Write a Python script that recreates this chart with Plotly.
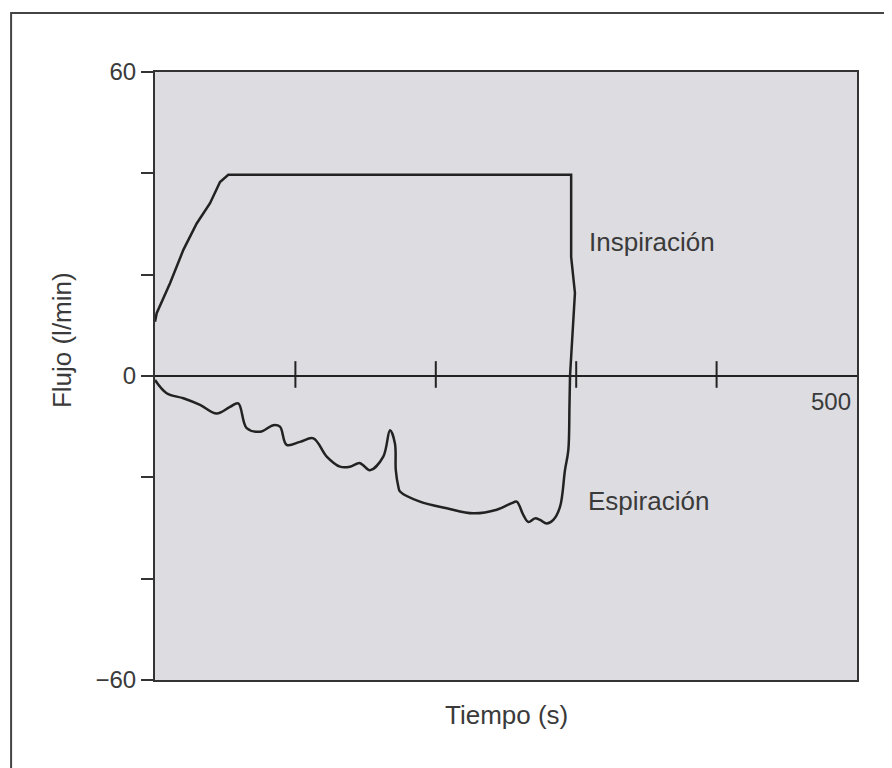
import plotly.graph_objects as go

# Inspiración (l/min) vs tiempo
insp_x = [0, 1.2, 10.7, 20.2, 29.7, 39.2, 46.3, 52.2, 296.4, 296.4, 299.1, 296.4, 295.6]
insp_y = [10.7, 12.4, 18.3, 24.9, 30.1, 34.1, 38.3, 39.7, 39.7, 23.5, 16.4, 1.8, 0]

# Espiración
exp_x = [0, 8.3, 20.2, 32.1, 43.9, 53.4, 59.3, 65.3, 74.8, 84.3, 89.0, 93.8, 103.3,
         112.8, 122.3, 131.8, 138.9, 146.0, 153.1, 162.6, 167.4, 170.9, 171.5, 173.3,
         174.5, 188.7, 207.8, 226.7, 243.4, 254.1, 257.6, 262.3, 265.9, 270.7, 274.2,
         279.0, 283.7, 288.5, 292.0, 294.4, 295.2, 295.6]
exp_y = [-0.8, -3.4, -4.4, -5.7, -7.4, -6.1, -5.4, -10.3, -11.0, -9.7, -10.0, -13.6, -13.0,
         -12.3, -15.9, -17.9, -17.9, -17.2, -18.6, -15.9, -10.7, -13.3, -18.6, -21.8,
         -22.8, -24.8, -26.1, -27.1, -26.4, -25.1, -24.8, -27.4, -28.8, -28.1, -28.4,
         -29.1, -28.4, -25.8, -18.6, -14.6, -6.0, 0]

y_tickvals = [-60, -40, -20, 0, 20, 40, 60]
y_ticktext = ["\u221260", "", "", "0", "", "", "60"]
x_minor_ticks = [100, 200, 300, 400]

line_col = "#222222"
text_col = "#3a3a3a"
font_fam = "Liberation Sans, Arial, sans-serif"

fig = go.Figure()
fig.add_trace(go.Scatter(x=insp_x, y=insp_y, mode="lines",
                         line=dict(color=line_col, width=2.5), hoverinfo="skip"))
fig.add_trace(go.Scatter(x=exp_x, y=exp_y, mode="lines",
                         line=dict(color=line_col, width=2.5, shape="spline", smoothing=1.0),
                         hoverinfo="skip"))
fig.add_trace(go.Scatter(x=x_minor_ticks, y=[0.3] * len(x_minor_ticks), mode="markers",
                         marker=dict(symbol="line-ns-open", size=19, color=line_col,
                                     line=dict(color=line_col, width=2)),
                         hoverinfo="skip"))

fig.update_layout(
    width=884, height=760,
    margin=dict(l=147, r=35, t=64, b=88),
    paper_bgcolor="white",
    plot_bgcolor="#dcdce1",
    showlegend=False,
    font=dict(family=font_fam, color=text_col),
    xaxis=dict(range=[0, 500], showgrid=False, zeroline=False, showticklabels=False,
               ticks="", showline=True, mirror=True, linecolor="#333333", linewidth=2),
    yaxis=dict(range=[-60, 60], showgrid=False, zeroline=True, zerolinecolor="#222222",
               zerolinewidth=2, tickvals=y_tickvals, ticktext=y_ticktext, ticks="outside",
               ticklen=12, tickwidth=2, tickcolor="#333333",
               tickfont=dict(size=24, color=text_col, family=font_fam),
               showline=True, mirror=True, linecolor="#333333", linewidth=2),
    shapes=[dict(type="rect", xref="paper", yref="paper",
                 x0=-0.205, x1=1.055, y0=-0.2, y1=1.097,
                 line=dict(color="#444444", width=2), fillcolor="rgba(0,0,0,0)",
                 layer="below")],
    annotations=[
        dict(x=497, y=-2.0, xref="x", yref="y", text="500", showarrow=False,
             xanchor="right", yanchor="top", font=dict(size=24, color=text_col)),
        dict(x=308, y=26.5, xref="x", yref="y", text="Inspiración", showarrow=False,
             xanchor="left", yanchor="middle", font=dict(size=26, color=text_col)),
        dict(x=307, y=-24.6, xref="x", yref="y", text="Espiración", showarrow=False,
             xanchor="left", yanchor="middle", font=dict(size=26, color=text_col)),
        dict(x=0.501, y=-0.058, xref="paper", yref="paper", text="Tiempo (s)",
             showarrow=False, xanchor="center", yanchor="middle",
             font=dict(size=26, color=text_col)),
        dict(x=-0.1325, y=0.559, xref="paper", yref="paper", text="Flujo (l/min)",
             showarrow=False, xanchor="center", yanchor="middle", textangle=-90,
             font=dict(size=26, color=text_col)),
    ],
)

fig.write_html("out.html")
